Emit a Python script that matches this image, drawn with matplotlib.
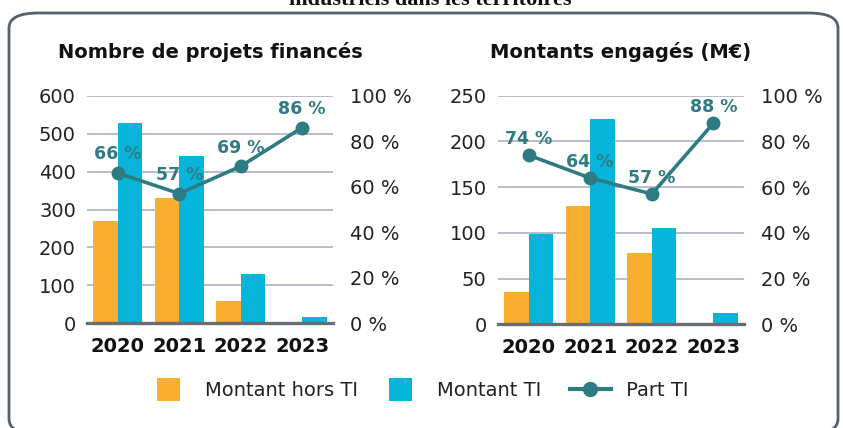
import matplotlib
matplotlib.use("Agg")
import matplotlib.pyplot as plt
import numpy as np
from matplotlib.patches import FancyBboxPatch, Rectangle, Patch
from matplotlib.lines import Line2D
from matplotlib.legend_handler import HandlerPatch, HandlerLine2D

years = ["2020", "2021", "2022", "2023"]
projets_hors_ti = [271, 331, 59, 0]
projets_ti = [527, 440, 131, 17]
projets_part = [66, 57, 69, 86]
montants_hors_ti = [35, 129, 78, 0.6]
montants_ti = [99, 225, 105, 12]
montants_part = [74, 64, 57, 88]

ORANGE = "#F8AE2F"
BLUE = "#06B5D9"
TEAL = "#2E7B84"
GRID = "#B9BDCB"
BASE = "#6A6D74"
TXT = "#222222"

plt.rcParams['font.family'] = ['DejaVu Sans']

fig = plt.figure(figsize=(8.43, 4.28), dpi=100)
W, H = 843, 428

def fx(px):
    return px / W

def fy(py):
    return 1 - py / H

# border
border = FancyBboxPatch((fx(9), fy(434)), fx(829), (434 - 13) / H,
                        boxstyle="round,pad=0,rounding_size=0.035",
                        transform=fig.transFigure, fill=False,
                        edgecolor="#56606B", linewidth=2.0, clip_on=False)
fig.patches.append(border)

# cropped top title (only its lower part is visible in the reference)
fig.text(0.51, fy(5), "industriels dans les territoires", ha="center", va="baseline",
         fontsize=16, fontweight="bold", family=["Liberation Serif", "DejaVu Serif"],
         color="#111111")


def panel(rect, hors, ti, part, ymax, ystep, title, title_x, label_off):
    ax = fig.add_axes(rect)
    x = np.arange(len(years))
    w = 0.4
    ax.bar(x - w / 2, hors, width=w, color=ORANGE, zorder=3)
    ax.bar(x + w / 2, ti, width=w, color=BLUE, zorder=3)
    ax.set_xlim(-0.5, len(years) - 0.5)
    ax.set_ylim(0, ymax)
    ax.set_yticks(np.arange(0, ymax + 1, ystep))
    ax.yaxis.grid(True, color=GRID, linewidth=1.4, zorder=0)
    ax.set_axisbelow(True)
    for s in ["top", "right", "left"]:
        ax.spines[s].set_visible(False)
    ax.spines["bottom"].set_color(BASE)
    ax.spines["bottom"].set_linewidth(2.4)
    ax.spines["bottom"].set_zorder(4)
    ax.tick_params(axis="both", length=0)
    ax.tick_params(axis="y", labelsize=14, colors=TXT, pad=8)
    ax.set_xticks(x)
    ax.set_xticklabels(years, fontsize=14, fontweight="bold", color="#111111")
    ax.tick_params(axis="x", pad=10)
    ax.set_facecolor("none")

    ax2 = ax.twinx()
    ax2.set_ylim(0, 100)
    ax2.set_yticks(np.arange(0, 101, 20))
    ax2.set_yticklabels([f"{v} %" for v in range(0, 101, 20)])
    ax2.tick_params(axis="y", length=0, labelsize=14, colors=TXT, pad=12)
    for s in ax2.spines.values():
        s.set_visible(False)
    ax2.plot(x, part, color=TEAL, linewidth=2.6, marker="o", markersize=9, zorder=5)
    for xi, p in zip(x, part):
        ax2.annotate(f"{p} %", (xi, p), xytext=(0, label_off), textcoords="offset points",
                     ha="center", va="bottom", fontsize=12.5, fontweight="bold", color=TEAL)
    fig.text(fx(title_x), fy(52), title, ha="left", va="center", fontsize=14,
             fontweight="bold", color="#111111")
    return ax, ax2

panel([fx(87), fy(323.3), fx(246), 227.6 / H], projets_hors_ti, projets_ti, projets_part,
      600, 100, "Nombre de projets financés", 58, 7)
panel([fx(497.7), fy(324.3), fx(246.6), 228.6 / H], montants_hors_ti, montants_ti, montants_part,
      250, 50, "Montants engagés (M€)", 490, 5)


def square_patch(legend, orig_handle, xdescent, ydescent, width, height, fontsize):
    side = 16.5  # points
    yc = -ydescent + height / 2
    return Rectangle((-xdescent, yc - side / 2), side, side)


class LongLine(HandlerLine2D):
    # line longer than the handle box, reaching into the text pad
    def create_artists(self, legend, orig_handle, xdescent, ydescent, width, height,
                       fontsize, trans):
        return super().create_artists(legend, orig_handle, xdescent + 2.0, ydescent,
                                      29.5, height, fontsize, trans)

handles = [Patch(facecolor=ORANGE, edgecolor="none"),
           Patch(facecolor=BLUE, edgecolor="none"),
           Line2D([0], [0], color=TEAL, linewidth=3.0, marker="o", markersize=10)]
labels = ["Montant hors TI", "Montant TI", " Part TI"]
fig.legend(handles, labels, loc="center", bbox_to_anchor=(fx(423), fy(391)), ncol=3,
           frameon=False, fontsize=14, handlelength=1.183, handleheight=0.8,
           columnspacing=1.595, handletextpad=1.286, labelcolor="#222222",
           handler_map={Patch: HandlerPatch(patch_func=square_patch),
                        Line2D: LongLine()})

fig.savefig("out.png", dpi=100)
